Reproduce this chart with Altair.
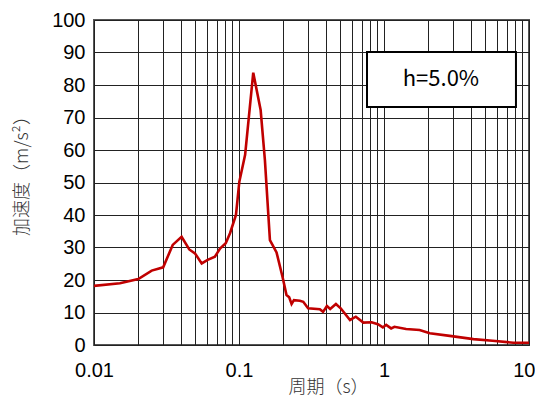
import altair as alt
import pandas as pd

period = [0.01, 0.0151, 0.0202, 0.025, 0.030, 0.0349, 0.0402, 0.0454, 0.0497, 0.0553,
          0.0608, 0.0682, 0.0740, 0.0810, 0.0867, 0.0953, 0.1005, 0.1102, 0.1254, 0.1410,
          0.1509, 0.1634, 0.1815, 0.1995, 0.2126, 0.2219, 0.2305, 0.2391, 0.2627, 0.2775,
          0.2996, 0.3611, 0.380, 0.404, 0.4253, 0.466, 0.5027, 0.5829, 0.6393, 0.7207,
          0.8198, 0.9082, 0.982, 1.035, 1.12, 1.18, 1.42, 1.76, 2.07, 2.84,
          4.14, 5.6, 7.8, 10.0]
accel = [18.2, 19.0, 20.3, 22.9, 23.9, 30.8, 33.3, 29.4, 28.2, 25.1,
         26.2, 27.2, 29.7, 31.3, 34.4, 40.0, 50.2, 58.5, 83.8, 72.3,
         56.9, 32.3, 28.5, 21.0, 15.4, 14.7, 12.6, 13.8, 13.6, 13.3,
         11.3, 11.0, 10.2, 12.0, 11.1, 12.6, 11.3, 7.7, 8.7, 6.9,
         7.0, 6.4, 5.4, 6.2, 5.1, 5.6, 4.9, 4.6, 3.6, 2.8,
         1.8, 1.3, 0.7, 0.7]

grid_x = [m * 10.0 ** e for e in (-2, -1, 0) for m in range(1, 10)] + [10.0]
label_x = [0.01, 0.1, 1, 10]
y_ticks = list(range(0, 101, 10))

box_x = [0.7635, 8.13]
box_y = [73.2, 90.15]
text_pos = [2.47, 81.7]
text_label = "h=5.0%"

df = pd.DataFrame({"T": period, "A": accel})

xscale = alt.Scale(type="log", domain=[0.01, 10], nice=False)
yscale = alt.Scale(domain=[0, 100], nice=False)

xaxis = alt.Axis(values=grid_x, format="~g",
                 labelExpr="(datum.value==0.01||datum.value==0.1||datum.value==1||datum.value==10) ? datum.label : ''",
                 title="周期（s）", grid=True, gridColor="#222", gridWidth=1,
                 ticks=False, domain=False, labelFont="Liberation Sans",
                 labelFontSize=20, labelColor="#000", labelPadding=15,
                 labelFlush=False, labelOverlap=False,
                 labelAlign=alt.condition("datum.value >= 10", alt.value("right"), alt.value("center")),
                 labelOffset=alt.condition("datum.value >= 10", alt.value(6), alt.value(0)),
                 titleFont="Noto Sans CJK JP", titleFontSize=18,
                 titleFontWeight=300, titleColor="#333",
                 titleX=234, titleY=42, titleAlign="center", titleBaseline="middle")
yaxis = alt.Axis(values=y_ticks, title="加速度（m/s²）", grid=True,
                 gridColor="#222", gridWidth=1, ticks=False, domain=False,
                 labelFont="Liberation Sans", labelFontSize=20, labelColor="#000",
                 labelPadding=9, labelFlush=False, labelOverlap=False,
                 titleFont="Noto Sans CJK JP", titleFontSize=18,
                 titleFontWeight=300, titleColor="#333",
                 titleX=-72, titleY=151, titleAlign="center", titleBaseline="middle")

line = alt.Chart(df).mark_line(color="#C00000", strokeWidth=2.6).encode(
    x=alt.X("T:Q", scale=xscale, axis=xaxis, title="周期（s）"),
    y=alt.Y("A:Q", scale=yscale, axis=yaxis, title="加速度（m/s²）"),
)

box_df = pd.DataFrame({"x1": [box_x[0]], "x2": [box_x[1]], "y1": [box_y[0]], "y2": [box_y[1]]})
box = alt.Chart(box_df).mark_rect(fill="white", stroke="black", strokeWidth=2).encode(
    x=alt.X("x1:Q", scale=xscale, axis=xaxis, title="周期（s）"), x2="x2:Q",
    y=alt.Y("y1:Q", scale=yscale, axis=yaxis, title="加速度（m/s²）"), y2="y2:Q",
)

txt_df = pd.DataFrame({"x": [text_pos[0]], "y": [text_pos[1]], "t": [text_label]})
txt = alt.Chart(txt_df).mark_text(font="Noto Sans CJK JP", fontSize=22, color="#000",
                                  align="center", baseline="middle").encode(
    x=alt.X("x:Q", scale=xscale, axis=xaxis, title="周期（s）"),
    y=alt.Y("y:Q", scale=yscale, axis=yaxis, title="加速度（m/s²）"),
    text="t:N",
)

chart = alt.layer(line, box, txt).properties(
    width=435, height=325,
    autosize=alt.AutoSizeParams(type="none"),
    padding={"left": 86, "top": 12, "right": 6, "bottom": 54},
    background="white",
).configure_view(stroke="#555", strokeWidth=2)

chart.save("out.html", embed_options={"renderer": "svg", "actions": False})
